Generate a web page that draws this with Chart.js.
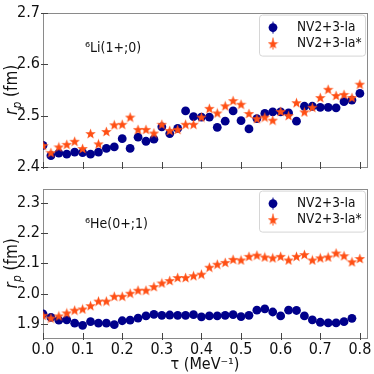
<!DOCTYPE html>
<html>
<head>
<meta charset="utf-8">
<script src="https://cdn.jsdelivr.net/npm/chart.js@4.4.1/dist/chart.umd.min.js"></script>
<style>
  html, body { margin: 0; padding: 0; background: #fff; }
  #wrap { position: relative; width: 374px; height: 374px; }
  #top { position: absolute; left: 0; top: 0; }
  #bot { position: absolute; left: 0; top: 176px; }
</style>
</head>
<body>
<div id="wrap">
  <canvas id="top" width="374" height="180"></canvas>
  <canvas id="bot" width="374" height="198"></canvas>
</div>
<script>
// tau values (MeV^-1)
const tau = [0.00, 0.02, 0.04, 0.06, 0.08, 0.10, 0.12, 0.14, 0.16, 0.18,
             0.20, 0.22, 0.24, 0.26, 0.28, 0.30, 0.32, 0.34, 0.36, 0.38,
             0.40, 0.42, 0.44, 0.46, 0.48, 0.50, 0.52, 0.54, 0.56, 0.58,
             0.60, 0.62, 0.64, 0.66, 0.68, 0.70, 0.72, 0.74, 0.76, 0.78, 0.80];

const seriesNames = ["NV2+3-Ia", "NV2+3-Ia*"];

// 6Li(1+;0)
const liIa = [2.442, 2.422, 2.427, 2.425, 2.429, 2.428, 2.425, 2.429, 2.436, 2.439,
              2.455, 2.436, 2.458, 2.450, 2.454, 2.478, 2.465, 2.475, 2.509, 2.498,
              2.497, 2.497, 2.477, 2.489, 2.509, 2.490, 2.474, 2.494, 2.504, 2.507,
              2.507, 2.505, 2.489, 2.518, 2.518, 2.516, 2.516, 2.515, 2.527, 2.530, 2.543];
const liIaStar = [2.442, 2.428, 2.439, 2.444, 2.450, 2.436, 2.465, 2.445, 2.469, 2.482,
                  2.483, 2.497, 2.473, 2.473, 2.466, 2.483, 2.471, 2.473, 2.483, 2.483,
                  2.497, 2.514, 2.505, 2.519, 2.529, 2.522, 2.504, 2.494, 2.497, 2.491,
                  2.508, 2.500, 2.525, 2.507, 2.516, 2.535, 2.551, 2.539, 2.541, 2.535, 2.561];

// 6He(0+;1)  (Ia stops at 0.78)
const heIa = [1.933, 1.921, 1.912, 1.913, 1.902, 1.895, 1.907, 1.902, 1.902, 1.897,
              1.910, 1.912, 1.919, 1.926, 1.931, 1.928, 1.929, 1.928, 1.928, 1.930,
              1.923, 1.926, 1.926, 1.928, 1.930, 1.924, 1.928, 1.945, 1.949, 1.939,
              1.926, 1.945, 1.944, 1.926, 1.913, 1.905, 1.903, 1.903, 1.907, 1.918];
const heIaStar = [1.928, 1.919, 1.926, 1.936, 1.945, 1.949, 1.960, 1.975, 1.975, 1.991,
                  1.991, 2.001, 2.011, 2.011, 2.023, 2.035, 2.043, 2.053, 2.053, 2.059,
                  2.064, 2.087, 2.097, 2.103, 2.113, 2.111, 2.123, 2.127, 2.121, 2.118,
                  2.123, 2.111, 2.123, 2.129, 2.111, 2.118, 2.121, 2.134, 2.125, 2.105, 2.116];

const BLUE = "#00008b";
const ORANGE = "#ff4f14";
const FONT = "'DejaVu Sans Condensed', 'DejaVu Sans', sans-serif";

// estrella rellena de 5 puntas, como el marcador '*' de matplotlib
function hacerEstrella(size, color) {
    const c = document.createElement("canvas");
    c.width = size; c.height = size;
    const g = c.getContext("2d");
    const cx = size / 2, cy = size / 2 + 0.5, R = size / 2, r = R * 0.42;
    g.beginPath();
    for (let i = 0; i < 10; i++) {
        const rad = i % 2 === 0 ? R : r;
        const a = -Math.PI / 2 + i * Math.PI / 5;
        const px = cx + rad * Math.cos(a), py = cy + rad * Math.sin(a);
        if (i === 0) g.moveTo(px, py); else g.lineTo(px, py);
    }
    g.closePath();
    g.fillStyle = color;
    g.fill();
    return c;
}
const estrella = hacerEstrella(11, ORANGE);

function puntos(xs, ys) {
    return ys.map((y, i) => ({ x: xs[i], y: y }));
}

// marco, ticks hacia dentro, leyenda y etiquetas
const decoracion = {
    id: "decoracion",
    beforeDatasetsDraw(chart) {
        const ctx = chart.ctx, a = chart.chartArea;
        ctx.save();
        ctx.strokeStyle = "#8a8a8a";
        ctx.lineWidth = 1;
        ctx.strokeRect(Math.round(a.left) + 0.5, Math.round(a.top) + 0.5,
                       Math.round(a.right - a.left), Math.round(a.bottom - a.top));
        ctx.strokeStyle = "#444";
        const xs = chart.scales.x, ys = chart.scales.y;
        xs.ticks.forEach(t => {
            const px = Math.round(xs.getPixelForValue(t.value)) + 0.5;
            ctx.beginPath();
            ctx.moveTo(px, a.bottom + 2);
            ctx.lineTo(px, a.bottom - 5);
            ctx.stroke();
        });
        ys.ticks.forEach(t => {
            const py = Math.round(ys.getPixelForValue(t.value)) + 0.5;
            ctx.beginPath();
            ctx.moveTo(a.left - 2, py);
            ctx.lineTo(a.left + 5, py);
            ctx.stroke();
        });
        ctx.restore();
    },
    afterDraw(chart) {
        const ctx = chart.ctx, a = chart.chartArea;
        const o = chart.options.plugins.decoracion;
        ctx.save();
        ctx.textAlign = "left";
        // caja de la leyenda
        const bx = a.left + 216, by = a.top + 2, bw = 106, bh = 41;
        ctx.beginPath();
        ctx.roundRect(bx + 0.5, by + 0.5, bw, bh, 3);
        ctx.fillStyle = "rgba(255,255,255,0.8)";
        ctx.fill();
        ctx.strokeStyle = "#d6d6d6";
        ctx.stroke();
        const filas = [a.top + 15, a.top + 31];
        const mx = a.left + 230;
        ctx.strokeStyle = BLUE;
        ctx.beginPath(); ctx.moveTo(mx, filas[0] - 6); ctx.lineTo(mx, filas[0] + 6); ctx.stroke();
        ctx.fillStyle = BLUE;
        ctx.beginPath(); ctx.arc(mx, filas[0], 4.4, 0, Math.PI * 2); ctx.fill();
        ctx.strokeStyle = ORANGE;
        ctx.beginPath(); ctx.moveTo(mx, filas[1] - 6); ctx.lineTo(mx, filas[1] + 6); ctx.stroke();
        ctx.drawImage(estrella, mx - 5.5, filas[1] - 5.5);
        ctx.font = "13.5px " + FONT;
        ctx.textBaseline = "middle";
        ctx.fillStyle = "#111";
        ctx.fillText(seriesNames[0], a.left + 254, filas[0]);
        ctx.fillText(seriesNames[1], a.left + 254, filas[1]);
        // etiqueta del núcleo
        ctx.font = "14px " + FONT;
        ctx.fillText(o.etiqueta, a.left + 42, a.top + 36);
        // título eje y: r cursiva con subíndice p
        ctx.translate(13, (a.top + a.bottom) / 2);
        ctx.rotate(-Math.PI / 2);
        ctx.font = "italic 17px " + FONT;
        const w1 = ctx.measureText("r").width;
        ctx.font = "italic 12px " + FONT;
        const w2 = ctx.measureText("p").width;
        ctx.font = "17px " + FONT;
        const w3 = ctx.measureText(" (fm)").width;
        const x0 = -(w1 + w2 + w3) / 2;
        ctx.font = "italic 17px " + FONT;
        ctx.fillText("r", x0, 0);
        ctx.font = "italic 12px " + FONT;
        ctx.fillText("p", x0 + w1, 5);
        ctx.font = "17px " + FONT;
        ctx.fillText(" (fm)", x0 + w1 + w2, 0);
        ctx.restore();
    }
};

function crearGrafico(id, dIa, dStar, ymin, ymax, etiqueta, conEjeX) {
    const ctx = document.getElementById(id).getContext("2d");
    return new Chart(ctx, {
        type: "scatter",
        data: {
            datasets: [{
                label: seriesNames[1],
                data: puntos(tau, dStar),
                pointStyle: estrella,
                clip: 0
            }, {
                label: seriesNames[0],
                data: puntos(tau, dIa),
                pointStyle: "circle",
                pointRadius: 4.4,
                pointBorderWidth: 0,
                backgroundColor: BLUE,
                borderColor: BLUE,
                clip: 0
            }]
        },
        plugins: [decoracion],
        options: {
            responsive: false,
            animation: false,
            events: [],
            layout: { padding: { left: 0, right: 7, top: conEjeX ? 4 : 7, bottom: 0 } },
            plugins: {
                legend: { display: false },
                tooltip: { enabled: false },
                decoracion: { etiqueta: etiqueta }
            },
            scales: {
                x: {
                    type: "linear",
                    min: 0, max: 0.818,
                    grid: { display: false, drawTicks: false },
                    border: { display: false },
                    ticks: {
                        display: conEjeX,
                        stepSize: 0.1,
                        includeBounds: false,
                        padding: 2,
                        color: "#111",
                        font: { family: FONT, size: 16 },
                        maxRotation: 0,
                        callback: v => v.toFixed(1)
                    },
                    title: {
                        display: conEjeX,
                        text: "τ (MeV⁻¹)",
                        color: "#111",
                        font: { family: FONT, size: 16 },
                        padding: { top: 0, bottom: 0 }
                    },
                    afterFit: s => { s.height = conEjeX ? 36 : 13; }
                },
                y: {
                    min: ymin, max: ymax,
                    grid: { display: false, drawTicks: false },
                    border: { display: false },
                    ticks: {
                        stepSize: 0.1,
                        includeBounds: false,
                        padding: 3,
                        color: "#111",
                        font: { family: FONT, size: 16 },
                        callback: v => v.toFixed(1)
                    },
                    afterFit: s => { s.width = 43; }
                }
            }
        }
    });
}

crearGrafico("top", liIa, liIaStar, 2.4, 2.7, "⁶Li(1+;0)", false);
crearGrafico("bot", heIa, heIaStar, 1.853, 2.347, "⁶He(0+;1)", true);
</script>
</body>
</html>
